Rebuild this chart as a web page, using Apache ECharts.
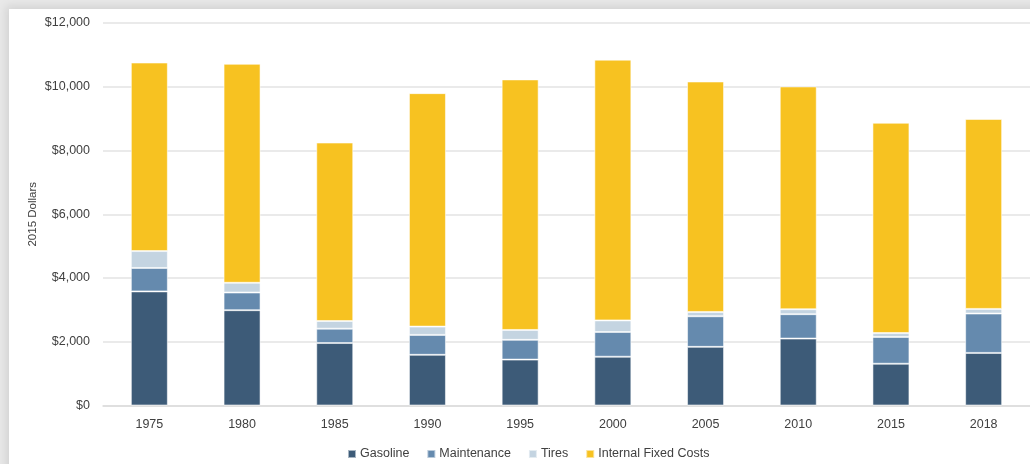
<!DOCTYPE html>
<html>
<head>
<meta charset="utf-8">
<script src="https://cdn.jsdelivr.net/npm/echarts@6/dist/echarts.min.js"></script>
<style>
  html, body { margin: 0; padding: 0; background: #e9e9e9; overflow: hidden; }
  #card { position: absolute; left: 9px; top: 9px; width: 1040px; height: 480px; background: #fff;
          box-shadow: 0 0 9px 3px rgba(0,0,0,0.10); }
  #chart { position: absolute; left: 0; top: 0; width: 1030px; height: 464px; }
</style>
</head>
<body>
<div id="card"></div>
<div id="chart"></div>
<script>
const categories = ['1975', '1980', '1985', '1990', '1995', '2000', '2005', '2010', '2015', '2018'];
const gasoline = [3580, 2990, 1960, 1590, 1440, 1530, 1840, 2100, 1310, 1650];
const maintenance = [735, 555, 450, 625, 620, 775, 960, 765, 840, 1235];
const tires = [530, 305, 240, 260, 310, 365, 135, 155, 125, 145];
const internalFixedCosts = [5915, 6870, 5600, 7325, 7860, 8180, 7230, 6990, 6595, 5960];
const seriesNames = ['Gasoline', 'Maintenance', 'Tires', 'Internal Fixed Costs'];
const yTicks = { min: 0, max: 12000, interval: 2000 };

const colors = ['#3d5b78', '#658aae', '#c4d4e1', '#f7c221'];
const font = 'Liberation Sans, Arial, sans-serif';

const chart = echarts.init(document.getElementById('chart'), null, { renderer: 'canvas' });
const dataSets = [gasoline, maintenance, tires, internalFixedCosts];
chart.setOption({
  animation: false,
  backgroundColor: 'transparent',
  color: colors,
  grid: { left: 103, right: -2, top: 23, bottom: 58.5, containLabel: false },
  legend: {
    top: 442.5, left: 342,
    itemWidth: 8, itemHeight: 8, itemGap: 17,
    icon: 'rect',
    textStyle: { fontFamily: font, fontSize: 12.5, color: '#404040', padding: [0, 0, 0, -1] },
    data: seriesNames
  },
  xAxis: {
    type: 'category',
    data: categories,
    axisLine: { show: true, lineStyle: { color: '#dcdcdc', width: 1.5 } },
    axisTick: { show: false },
    axisLabel: { fontFamily: font, fontSize: 12.5, color: '#404040', margin: 13 }
  },
  yAxis: {
    type: 'value',
    min: yTicks.min, max: yTicks.max, interval: yTicks.interval,
    name: '2015 Dollars',
    nameLocation: 'middle',
    nameGap: 64,
    nameMoveOverlap: false,
    nameRotate: 90,
    nameTextStyle: { fontFamily: font, fontSize: 11.5, color: '#404040' },
    axisLine: { show: false },
    axisTick: { show: false },
    splitLine: { lineStyle: { color: '#e3e3e3', width: 1.5 } },
    axisLabel: {
      fontFamily: font, fontSize: 12.5, color: '#404040', margin: 13,
      formatter: v => '$' + v.toLocaleString('en-US')
    }
  },
  series: seriesNames.map((name, i) => ({
    name,
    type: 'bar',
    stack: 'total',
    barWidth: 37,
    data: dataSets[i],
    itemStyle: { color: colors[i], borderColor: 'rgba(255,255,255,0.55)', borderWidth: 1 }
  }))
});
</script>
</body>
</html>
